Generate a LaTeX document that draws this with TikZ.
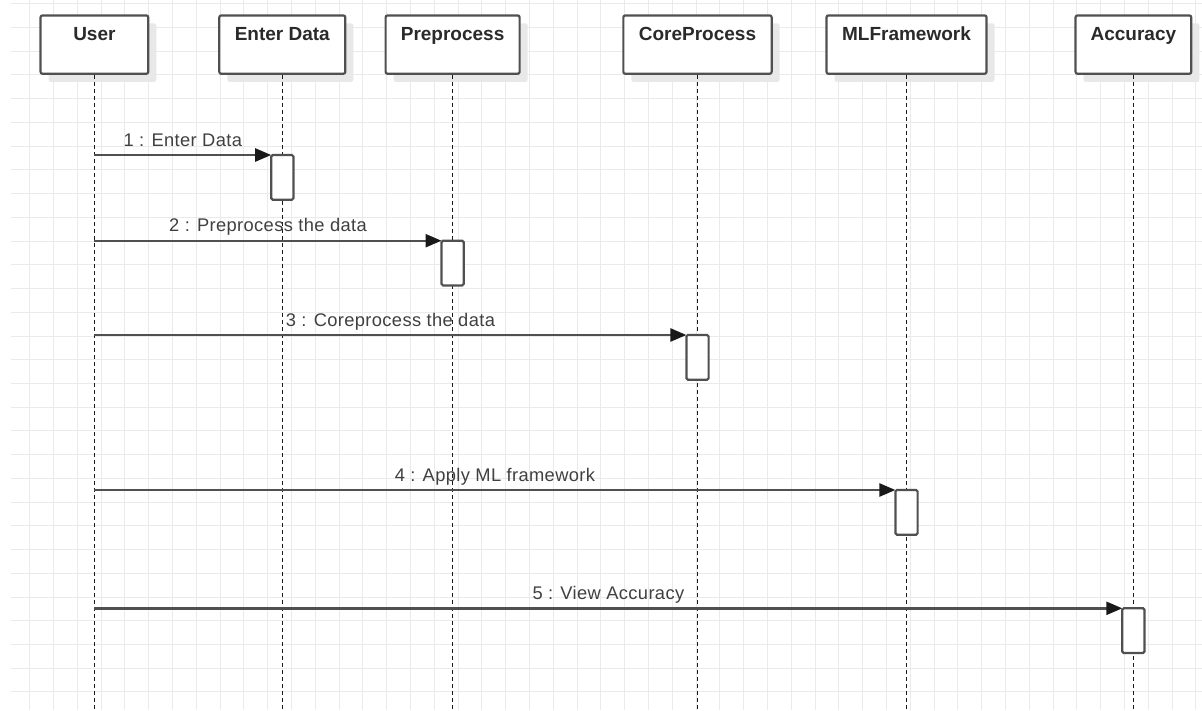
\documentclass[tikz,border=0pt]{standalone}
\usepackage{fontspec}
\setmainfont{Liberation Sans}
\newfontfamily\msgfont[LetterSpace=2]{Liberation Sans}
\usetikzlibrary{arrows.meta,shadows}

\definecolor{gridline}{HTML}{EAEAEA}
\definecolor{boxline}{HTML}{505050}
\definecolor{headtext}{HTML}{2A2A2A}
\definecolor{msgline}{HTML}{505050}
\definecolor{msgtext}{HTML}{404040}
\definecolor{shadowgray}{HTML}{E8E8E8}

\begin{document}
\begin{tikzpicture}[x=1pt,y=-1pt,
  gridrule/.style={draw=gridline, line width=1pt},
  headbox/.style={draw=boxline, line width=2.2pt, rounded corners=2pt, fill=white,
    minimum height=58.4pt, inner sep=0pt, anchor=north,
    drop shadow={shadow xshift=8pt, shadow yshift=-8pt, fill=shadowgray, opacity=1}},
  headtitle/.style={font=\bfseries\fontsize{19}{22}\selectfont, text=headtext,
    anchor=base, yshift=-25.8pt, inner sep=0pt},
  lifeline/.style={draw=black!90, line width=1.6pt, dash pattern=on 4pt off 3pt},
  actbox/.style={draw=boxline, line width=2.2pt, rounded corners=1.5pt, fill=white,
    minimum width=20pt, minimum height=42.5pt, inner sep=0pt, anchor=north},
  msgarrow/.style={draw=msgline, line width=2.4pt,
    -{Triangle[length=16pt, width=13pt, color=black!90]}},
  msglabel/.style={midway, anchor=base, yshift=9pt, inner sep=0pt,
    font=\msgfont\fontsize{18.3}{21}\selectfont, text=msgtext}
]
\useasboundingbox (0,0) rectangle (1202,710);
\fill[white] (0,0) rectangle (1202,710);

% background grid
\foreach \i in {0,...,49}
  \draw[gridrule] ({29.7+\i*23.8},0) -- ({29.7+\i*23.8},710);
\foreach \j in {0,...,29}
  \draw[gridrule] (11,{3.8+\j*23.73}) -- (1202,{3.8+\j*23.73});

% lifeline heads
\node[headbox, minimum width=107.7pt, label={[headtitle]north:User}] (user) at (94.4,14.3) {};
\node[headbox, minimum width=126pt, label={[headtitle]north:Enter Data}] (enter) at (282.3,14.3) {};
\node[headbox, minimum width=134pt, label={[headtitle]north:Preprocess}] (prep) at (452.6,14.3) {};
\node[headbox, minimum width=148.3pt, label={[headtitle]north:CoreProcess}] (core) at (697.5,14.3) {};
\node[headbox, minimum width=160pt, label={[headtitle]north:MLFramework}] (mlf) at (906.5,14.3) {};
\node[headbox, minimum width=115.7pt, label={[headtitle]north:Accuracy}] (acc) at (1133.4,14.3) {};

\coordinate (bottom) at (0,710);

% dashed lifelines
\foreach \n in {user,enter,prep,core,mlf,acc}
  \draw[lifeline] (\n.south) -- (\n.south |- bottom);

% activation bars
\node[actbox] (act1) at (enter.south |- 0,155) {};
\node[actbox] (act2) at (prep.south |- 0,240.7) {};
\node[actbox] (act3) at (core.south |- 0,335) {};
\node[actbox] (act4) at (mlf.south |- 0,490) {};
\node[actbox] (act5) at (acc.south |- 0,608.3) {};

% messages
\draw[msgarrow] (user.south |- act1.north west) -- (act1.north west)
  node[msglabel] {1 : Enter Data};
\draw[msgarrow] (user.south |- act2.north west) -- (act2.north west)
  node[msglabel] {2 : Preprocess the data};
\draw[msgarrow] (user.south |- act3.north west) -- (act3.north west)
  node[msglabel] {3 : Coreprocess the data};
\draw[msgarrow] (user.south |- act4.north west) -- (act4.north west)
  node[msglabel] {4 : Apply ML framework};
\draw[msgarrow] (user.south |- act5.north west) -- (act5.north west)
  node[msglabel] {5 : View Accuracy};

% bars redrawn above the arrow ends
\foreach \a in {act1,act2,act3,act4,act5}
  \draw[draw=boxline, line width=2.2pt, rounded corners=1.5pt, fill=white]
    (\a.north west) rectangle (\a.south east);
\end{tikzpicture}
\end{document}
